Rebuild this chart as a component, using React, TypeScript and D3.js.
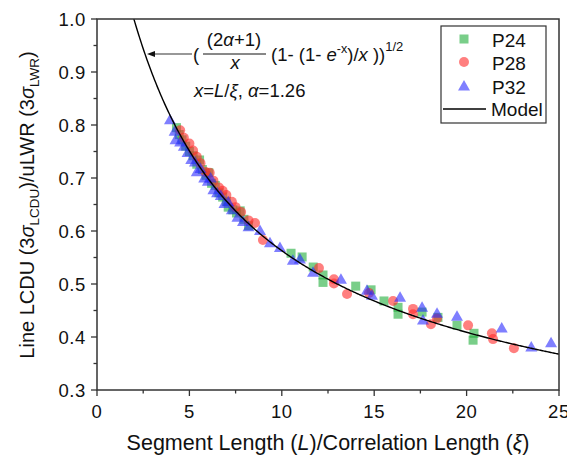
import React from "react";
import * as d3 from "d3";

const xTicks = [0, 5, 10, 15, 20, 25];
const yTicks = [0.3, 0.4, 0.5, 0.6, 0.7, 0.8, 0.9, 1.0];
const alpha = 1.26;

const p24: [number, number][] = [
  [4.3, 0.795], [4.45, 0.782], [4.6, 0.772], [4.8, 0.76], [5.0, 0.75], [5.2, 0.742],
  [5.4, 0.726], [5.55, 0.734], [5.7, 0.716], [5.9, 0.705], [6.05, 0.71], [6.2, 0.69],
  [6.4, 0.686], [6.6, 0.672], [6.8, 0.664], [7.0, 0.656], [7.1, 0.645], [7.35, 0.64],
  [7.55, 0.634], [7.75, 0.638], [7.95, 0.622], [8.2, 0.61],
  [10.5, 0.558], [11.1, 0.551], [11.7, 0.532], [12.23, 0.517], [12.23, 0.503],
  [14.0, 0.496], [14.83, 0.489], [15.53, 0.468], [16.29, 0.456], [16.29, 0.443],
  [17.59, 0.447], [18.45, 0.437], [19.48, 0.422], [20.4, 0.407], [20.35, 0.394],
];

const p28: [number, number][] = [
  [4.5, 0.79], [4.7, 0.776], [5.0, 0.765], [5.2, 0.752], [5.4, 0.74], [5.6, 0.728],
  [5.85, 0.712], [6.1, 0.71], [6.3, 0.695], [6.6, 0.682], [6.8, 0.676], [7.0, 0.668],
  [7.3, 0.655], [7.5, 0.645], [7.8, 0.636], [8.2, 0.62], [8.55, 0.615], [8.98, 0.583],
  [12.01, 0.53], [12.82, 0.509], [12.82, 0.501], [13.53, 0.481], [14.72, 0.483],
  [16.02, 0.468], [17.1, 0.453], [17.1, 0.443], [18.07, 0.424], [18.4, 0.435],
  [20.08, 0.422], [21.37, 0.407], [21.43, 0.396], [22.56, 0.379],
];

const p32: [number, number][] = [
  [3.95, 0.81], [4.2, 0.788], [4.25, 0.772], [4.5, 0.768], [4.7, 0.76], [4.9, 0.748],
  [5.1, 0.735], [5.3, 0.73], [5.4, 0.712], [5.6, 0.718], [5.8, 0.7], [6.0, 0.694],
  [6.15, 0.7], [6.3, 0.678], [6.5, 0.672], [6.7, 0.667], [6.9, 0.652], [7.1, 0.655],
  [7.3, 0.64], [7.6, 0.626], [7.9, 0.618], [8.2, 0.608], [8.82, 0.601], [9.36, 0.578],
  [9.9, 0.569], [10.6, 0.545], [10.98, 0.547], [11.69, 0.522], [13.2, 0.509],
  [14.61, 0.488], [14.88, 0.479], [16.4, 0.475], [17.59, 0.456], [17.64, 0.432],
  [18.4, 0.445], [19.48, 0.439], [21.9, 0.417], [23.5, 0.381], [24.57, 0.389],
];

const model = (x: number) =>
  Math.sqrt(((2 * alpha + 1) / x) * (1 - (1 - Math.exp(-x)) / x));

const GREEN = "#1fae3a";
const RED = "#ff2a2a";
const BLUE = "#2a2aff";
const FONT = "'Liberation Sans', Arial, Helvetica, sans-serif";

export default function App() {
  const L = 97, R = 559, T = 19, B = 390;
  const x = d3.scaleLinear().domain([0, 25]).range([L, R]);
  const y = d3.scaleLinear().domain([0.3, 1.0]).range([B, T]);

  const xs = d3.range(1.5, 25.001, 0.05);
  const line = d3
    .line<number>()
    .x((d) => x(d))
    .y((d) => y(model(d)));

  const xMinor = d3.range(0, 25.001, 2.5);
  const yMinor = d3.range(0.3, 1.0001, 0.05);

  const sq = (cx: number, cy: number, k: string, c: string, op: number) => (
    <rect key={k} x={cx - 4.5} y={cy - 4.5} width={9} height={9} fill={c} fillOpacity={op} />
  );
  const ci = (cx: number, cy: number, k: string, c: string, op: number) => (
    <circle key={k} cx={cx} cy={cy} r={5} fill={c} fillOpacity={op} />
  );
  const tri = (cx: number, cy: number, k: string, c: string, op: number) => (
    <path key={k} d={`M${cx},${cy - 6} L${cx + 6},${cy + 4.5} L${cx - 6},${cy + 4.5} Z`} fill={c} fillOpacity={op} />
  );

  return (
    <svg width={567} height={455} style={{ position: "absolute", left: 0, top: 0 }} fontFamily={FONT}>
      <rect width={567} height={455} fill="#fff" />
      <defs>
        <clipPath id="plot">
          <rect x={L} y={T} width={R - L} height={B - T} />
        </clipPath>
      </defs>

      {/* data */}
      <g>
        {p24.map((d, i) => sq(x(d[0]), y(d[1]), "g" + i, GREEN, 0.6))}
        {p28.map((d, i) => ci(x(d[0]), y(d[1]), "r" + i, RED, 0.6))}
        {p32.map((d, i) => tri(x(d[0]), y(d[1]), "b" + i, BLUE, 0.6))}
      </g>

      <path d={line(xs) || ""} fill="none" stroke="#000" strokeWidth={1.4} clipPath="url(#plot)" />

      {/* frame */}
      <rect x={L} y={T} width={R - L} height={B - T} fill="none" stroke="#333" strokeWidth={1.5} />

      {/* x ticks */}
      {xMinor.map((v, i) => (
        <line key={"xm" + i} x1={x(v)} x2={x(v)} y1={B} y2={B + (i % 2 === 0 ? 6 : 3.5)} stroke="#333" strokeWidth={1.3} />
      ))}
      {xTicks.map((v) => (
        <text key={"xt" + v} x={x(v)} y={418} textAnchor="middle" fontSize={18.5} letterSpacing={0.6} fill="#111">
          {v}
        </text>
      ))}

      {/* y ticks */}
      {yMinor.map((v, i) => (
        <line key={"ym" + i} x1={L} x2={L - (i % 2 === 0 ? 6 : 3.5)} y1={y(v)} y2={y(v)} stroke="#333" strokeWidth={1.3} />
      ))}
      {yTicks.map((v) => (
        <text key={"yt" + v} x={86} y={y(v) + 6.5} textAnchor="end" fontSize={18.5} letterSpacing={0.6} fill="#111">
          {v.toFixed(1)}
        </text>
      ))}

      {/* axis titles */}
      <text x={328} y={450} textAnchor="middle" fontSize={21.5} fill="#111">
        Segment Length (<tspan fontStyle="italic">L</tspan>)/Correlation Length (<tspan fontStyle="italic">ξ</tspan>)
      </text>
      <text transform="translate(34,205) rotate(-90)" textAnchor="middle" fontSize={20} fill="#111">
        Line LCDU (3<tspan fontStyle="italic">σ</tspan>
        <tspan fontSize={13.5} dy={5}>LCDU</tspan>
        <tspan dy={-5}>)/uLWR (3</tspan>
        <tspan fontStyle="italic">σ</tspan>
        <tspan fontSize={13.5} dy={5}>LWR</tspan>
        <tspan dy={-5}>)</tspan>
      </text>

      {/* annotation arrow */}
      <line x1={192} x2={152} y1={54} y2={54} stroke="#333" strokeWidth={1.2} />
      <path d="M147,54 L155,51 L155,57 Z" fill="#111" />

      {/* formula */}
      <g fontSize={18.5} fill="#111">
        <text x={193} y={61}>(</text>
        <text x={234} y={46} textAnchor="middle">
          (2<tspan fontStyle="italic">α</tspan>+1)
        </text>
        <line x1={203} x2={266} y1={54} y2={54} stroke="#111" strokeWidth={1} />
        <text x={235} y={69} textAnchor="middle" fontStyle="italic">x</text>
        <text x={271} y={61}>
          (1- (1- <tspan fontStyle="italic">e</tspan>
          <tspan fontSize={12.5} dy={-8}>-x</tspan>
          <tspan dy={8}>)/</tspan>
          <tspan fontStyle="italic">x</tspan> ))
          <tspan fontSize={13} dy={-10}>1/2</tspan>
        </text>
        <text x={194} y={97}>
          <tspan fontStyle="italic">x</tspan>=<tspan fontStyle="italic">L</tspan>/<tspan fontStyle="italic">ξ</tspan>, <tspan fontStyle="italic">α</tspan>=1.26
        </text>
      </g>

      {/* legend */}
      <rect x={441} y={26} width={105} height={97} fill="#fff" stroke="#333" strokeWidth={1.2} />
      {sq(464, 39, "lg", GREEN, 0.6)}
      {ci(464, 62, "lr", RED, 0.6)}
      {tri(464, 86, "lb", BLUE, 0.6)}
      <line x1={443} x2={486} y1={109} y2={109} stroke="#000" strokeWidth={1.4} />
      <g fontSize={19} fill="#111">
        <text x={492} y={46.5}>P24</text>
        <text x={492} y={70}>P28</text>
        <text x={492} y={93.5}>P32</text>
        <text x={491} y={116}>Model</text>
      </g>
    </svg>
  );
}
